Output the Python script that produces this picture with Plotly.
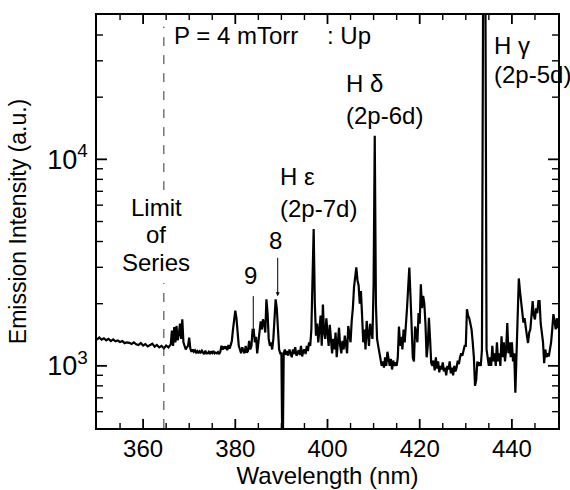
import plotly.graph_objects as go
import math

# ---- data ----
wavelength = [
    350.0, 350.5, 351.0, 351.5, 352.0, 352.5, 353.0, 353.5, 354.0, 354.5,
    355.0, 355.5, 356.0, 356.5, 357.0, 357.5, 358.0, 358.5, 359.0, 359.5,
    360.0, 360.5, 361.0, 361.5, 362.0, 362.5, 363.0, 363.5, 364.0, 364.5,
    365.0, 365.5,
    366.0, 366.25, 366.5, 366.75, 367.0, 367.25, 367.5, 367.75,
    368.0, 368.25, 368.5, 368.75, 369.0, 369.25, 369.5, 369.75,
    370.0, 370.25, 370.5, 370.75, 371.0, 371.25, 371.5, 371.75,
    372.0, 372.25, 372.5, 372.75, 373.0, 373.25, 373.5, 373.75,
    374.0, 374.25, 374.5, 374.75, 375.0, 375.25, 375.5, 375.75,
    376.0, 376.25, 376.5, 376.75, 377.0, 377.25, 377.5, 377.75,
    378.0, 378.25, 378.5, 378.75, 379.0, 379.25, 379.5, 379.75,
    380.0, 380.25, 380.5, 380.75, 381.0, 381.25, 381.5, 381.75,
    382.0, 382.25, 382.5, 382.75, 383.0, 383.25, 383.5, 383.75,
    384.0, 384.25, 384.5, 384.75, 385.0, 385.25, 385.5, 385.75,
    386.0, 386.25, 386.5, 386.75, 387.0, 387.25, 387.5, 387.75,
    388.0, 388.25, 388.5, 388.75, 389.0, 389.25, 389.5, 389.75,
    390.0, 390.25, 390.5, 390.75, 391.0, 391.25, 391.5, 391.75,
    392.0, 392.25, 392.5, 392.75, 393.0, 393.25, 393.5, 393.75,
    394.0, 394.25, 394.5, 394.75, 395.0, 395.25, 395.5, 395.75,
    396.0, 396.25, 396.5, 396.75, 397.0, 397.25, 397.5, 397.75,
    398.0, 398.25, 398.5, 398.75, 399.0, 399.25, 399.5, 399.75,
    400.0, 400.25, 400.5, 400.75, 401.0, 401.25, 401.5, 401.75,
    402.0, 402.25, 402.5, 402.75, 403.0, 403.25, 403.5, 403.75,
    404.0, 404.25, 404.5, 404.75, 405.0, 405.25, 405.5, 405.75,
    406.0, 406.25, 406.5, 406.75, 407.0, 407.25, 407.5, 407.75,
    408.0, 408.25, 408.5, 408.75, 409.0, 409.25, 409.5, 409.75,
    410.0, 410.25, 410.5, 410.75, 411.0, 411.25, 411.5, 411.75,
    412.0, 412.25, 412.5, 412.75, 413.0, 413.25, 413.5, 413.75,
    414.0, 414.25, 414.5, 414.75, 415.0, 415.25, 415.5, 415.75,
    416.0, 416.25, 416.5, 416.75, 417.0, 417.25, 417.5, 417.75,
    418.0, 418.25, 418.5, 418.75, 419.0, 419.25, 419.5, 419.75,
    420.0, 420.25, 420.5, 420.75, 421.0, 421.25, 421.5, 421.75,
    422.0, 422.25, 422.5, 422.75, 423.0, 423.25, 423.5, 423.75,
    424.0, 424.25, 424.5, 424.75, 425.0, 425.25, 425.5, 425.75,
    426.0, 426.25, 426.5, 426.75, 427.0, 427.25, 427.5, 427.75,
    428.0, 428.25, 428.5, 428.75, 429.0, 429.25, 429.5, 429.75,
    430.0, 430.25, 430.5, 430.75, 431.0, 431.25, 431.5, 431.75,
    432.0, 432.25, 432.5, 432.75, 433.0, 433.25, 433.5, 433.75,
    434.0, 434.25, 434.5, 434.75, 435.0, 435.25, 435.5, 435.75,
    436.0, 436.25, 436.5, 436.75, 437.0, 437.25, 437.5, 437.75,
    438.0, 438.25, 438.5, 438.75, 439.0, 439.25, 439.5, 439.75,
    440.0, 440.25, 440.5, 440.75, 441.0, 441.25, 441.5, 441.75,
    442.0, 442.25, 442.5, 442.75, 443.0, 443.25, 443.5, 443.75,
    444.0, 444.25, 444.5, 444.75, 445.0, 445.25, 445.5, 445.75,
    446.0, 446.25, 446.5, 446.75, 447.0, 447.25, 447.5, 447.75,
    448.0, 448.25, 448.5, 448.75, 449.0, 449.25, 449.5, 449.75,
    450.0,
]
intensity = [
    1340, 1372, 1338, 1360, 1330, 1352, 1318, 1342, 1315, 1326,
    1304, 1318, 1288, 1300, 1292, 1276, 1298, 1272, 1262, 1290,
    1255, 1275, 1242, 1260, 1280, 1238, 1262, 1228, 1250, 1215,
    1255, 1228,
    1270, 1480, 1250, 1540, 1300, 1560, 1330, 1420,   # 366-367
    1600, 1350, 1680, 1300, 1240, 1200, 1230, 1250,   # 368-369
    1370, 1210, 1170, 1200, 1170, 1190, 1160, 1180,   # 370-371
    1150, 1175, 1160, 1185, 1160, 1140, 1185, 1150,   # 372-373
    1150, 1170, 1140, 1175, 1155, 1180, 1150, 1160,   # 374-375
    1150, 1165, 1140, 1170, 1250, 1200, 1240, 1220,   # 376-377
    1240, 1190, 1260, 1210, 1260, 1320, 1500, 1650,   # 378-379
    1850, 1700, 1450, 1250, 1200, 1150, 1230, 1180,   # 380-381
    1150, 1250, 1160, 1180, 1320, 1200, 1250, 1500,   # 382-383
    1480, 1300, 1380, 1150, 1300, 1420, 1640, 1500,   # 384-385
    1680, 1600, 1450, 2100, 1800, 1350, 1250, 1300,   # 386-387
    1200, 1350, 1600, 2100, 1900, 1500, 1200, 1150,   # 388-389
    1150, 300, 1150, 1200, 1130, 1180, 1120, 1200,    # 390-391
    1150, 1100, 1200, 1140, 1230, 1120, 1150, 1190,   # 392-393
    1130, 1250, 1110, 1180, 1200, 1140, 1250, 1180,   # 394-395
    1300, 1250, 1500, 3000, 4600, 2000, 1400, 1600,   # 396-397
    1300, 1500, 1750, 1250, 1980, 1450, 1350, 1700,   # 398-399
    1500, 1250, 1580, 1300, 1150, 1350, 1200, 1450,   # 400-401
    1100, 1300, 1530, 1250, 1150, 1320, 1200, 1400,   # 402-403
    1250, 1150, 1560, 1400, 1300, 1650, 1900, 2400,   # 404-405
    2700, 3000, 2600, 2450, 2000, 2300, 1750, 1300,   # 406-407
    1500, 1200, 1650, 1350, 1250, 1600, 1450, 1350,   # 408-409
    2500, 13000, 2000, 1350, 1250, 1150, 1100, 1000,  # 410-411
    1050, 980, 1100, 1000, 1170, 1050, 1000, 1080,    # 412-413
    960, 1060, 1000, 1040, 1000, 1100, 1550, 1250,    # 414-415
    1380, 1200, 1500, 1300, 1500, 1900, 2400, 2990,   # 416-417
    2180, 1340, 1100, 1050, 1550, 1450, 1300, 1800,   # 418-419
    1600, 2480, 1900, 2180, 2000, 1600, 1100, 1250,   # 420-421
    1710, 1350, 1030, 1000, 1060, 950, 1100, 970,     # 422-423
    1050, 930, 1000, 960, 1040, 940, 980, 900,        # 424-425
    1000, 960, 1050, 920, 980, 900, 1000, 940,        # 426-427
    980, 1060, 1020, 1100, 1150, 1120, 1200, 1250,    # 428-429
    1250, 1880, 1750, 1700, 1600, 1500, 1300, 1100,   # 430-431
    800, 850, 1050, 1000, 1040, 1000, 1200, 60000,    # 432-433
    80000, 70000, 1200, 1050, 1000, 1100, 1000, 1250, # 434-435
    1050, 1150, 1000, 1300, 1050, 1150, 1000, 1390,   # 436-437
    1100, 1300, 1050, 1200, 1610, 1150, 1300, 1100,   # 438-439
    1300, 1050, 1150, 740, 1100, 2100, 2650, 2300,    # 440-441
    2050, 1900, 1620, 1700, 1500, 1400, 1290, 1450,   # 442-443
    1500, 1800, 2060, 1750, 1680, 1900, 1800, 2060,   # 444-445
    2060, 1600, 1450, 1300, 1030, 1200, 1100, 1150,   # 446-447
    1110, 1200, 1300, 1500, 1780, 1650, 1500, 1700,   # 448-449
    1520,
]

x_range = [350, 450]
y_range_vals = [500, 50000]
x_major = [360, 380, 400, 420, 440]
x_labels = ["360", "380", "400", "420", "440"]
x_minor = [355, 365, 370, 375, 385, 390, 395, 405, 410, 415, 425, 430, 435, 445]
y_major = [1000, 10000]
y_labels = ["10<sup>3</sup>", "10<sup>4</sup>"]
y_minor = [600, 700, 800, 900, 2000, 3000, 4000, 5000, 6000, 7000, 8000, 9000,
           20000, 30000, 40000]
series_limit = 364.5

FONT = "Liberation Sans, Arial, Helvetica, sans-serif"
L = math.log10
YLO, YHI = L(y_range_vals[0]), L(y_range_vals[1])

fig = go.Figure()
fig.add_trace(go.Scatter(x=wavelength, y=intensity, mode="lines",
                         line=dict(color="black", width=2.2), showlegend=False,
                         hoverinfo="skip"))

# dashed "limit of series" line (two segments around the label)
for y0, y1 in [(0.0, 0.351), (0.576, 0.972)]:
    fig.add_shape(type="line", xref="x", yref="paper", x0=series_limit, x1=series_limit,
                  y0=y0, y1=y1, line=dict(color="#333", width=1, dash="dash"))

# inward-pointing tick marks on all four sides
def xtick(v, length, width):
    for anchor, sign in [(0, 1), (1, -1)]:
        fig.add_shape(type="line", xref="x", yref="paper", x0=v, x1=v,
                      ysizemode="pixel", yanchor=anchor, y0=0, y1=sign * length,
                      line=dict(color="black", width=width))

def ytick(v, length, width):
    yf = (L(v) - YLO) / (YHI - YLO)
    for anchor, sign in [(0, 1), (1, -1)]:
        fig.add_shape(type="line", xref="paper", yref="paper", y0=yf, y1=yf,
                      xsizemode="pixel", xanchor=anchor, x0=0, x1=sign * length,
                      line=dict(color="black", width=width))

for v in x_major:
    xtick(v, 9, 1.8)
for v in x_minor:
    xtick(v, 5, 1.4)
for v in y_major:
    ytick(v, 10, 1.8)
for v in y_minor:
    ytick(v, 6, 1.4)

def txt(x, y, s, anchor="left", size=24):
    fig.add_annotation(x=x, y=y, xref="x", yref="y", text=s, showarrow=False,
                       xanchor=anchor, yanchor="middle",
                       font=dict(family=FONT, size=size, color="black"))

txt(366.3, 4.600, "P = 4 mTorr")
txt(399.5, 4.600, ": Up")
txt(403.6, 4.366, "H δ")
txt(403.6, 4.210, "(2p-6d)")
txt(389.3, 3.917, "H ε")
txt(389.3, 3.761, "(2p-7d)")
txt(435.6, 4.551, "H γ")
txt(435.6, 4.410, "(2p-5d)")
txt(362.8, 3.766, "Limit", "center")
txt(362.8, 3.634, "of", "center")
txt(362.8, 3.502, "Series", "center")
txt(383.4, 3.439, "9", "center")
txt(388.8, 3.605, "8", "center")

for xa, ya, ay in [(383.9, L(1448), -38), (389.2, L(2172), -40)]:
    fig.add_annotation(x=xa, y=ya, xref="x", yref="y", text="", showarrow=True,
                       ax=0, ay=ay, arrowhead=2, arrowsize=0.8, arrowwidth=1,
                       arrowcolor="black")

axis_common = dict(showline=True, linecolor="black", linewidth=1.8, mirror=True,
                   ticks="", showgrid=False, zeroline=False)

fig.update_xaxes(range=x_range, tickmode="array", tickvals=x_major, ticktext=x_labels,
                 tickfont=dict(family=FONT, size=24, color="black"),
                 ticklabelstandoff=-2,
                 title=dict(text="Wavelength (nm)", font=dict(family=FONT, size=24, color="black"),
                            standoff=0),
                 **axis_common)
fig.update_yaxes(type="log", range=[YLO, YHI], tickmode="array", tickvals=y_major,
                 ticktext=y_labels, tickfont=dict(family=FONT, size=27, color="black"),
                 ticklabelstandoff=2,
                 title=dict(text="Emission Intensity (a.u.)",
                            font=dict(family=FONT, size=23, color="black"), standoff=14),
                 **axis_common)

fig.update_layout(width=570, height=490, margin=dict(l=97, r=12, t=15, b=62, autoexpand=False),
                  paper_bgcolor="white", plot_bgcolor="white", showlegend=False)

fig.write_html("out.html", config={"displayModeBar": False},
               post_script="document.body.style.margin='0px';")
